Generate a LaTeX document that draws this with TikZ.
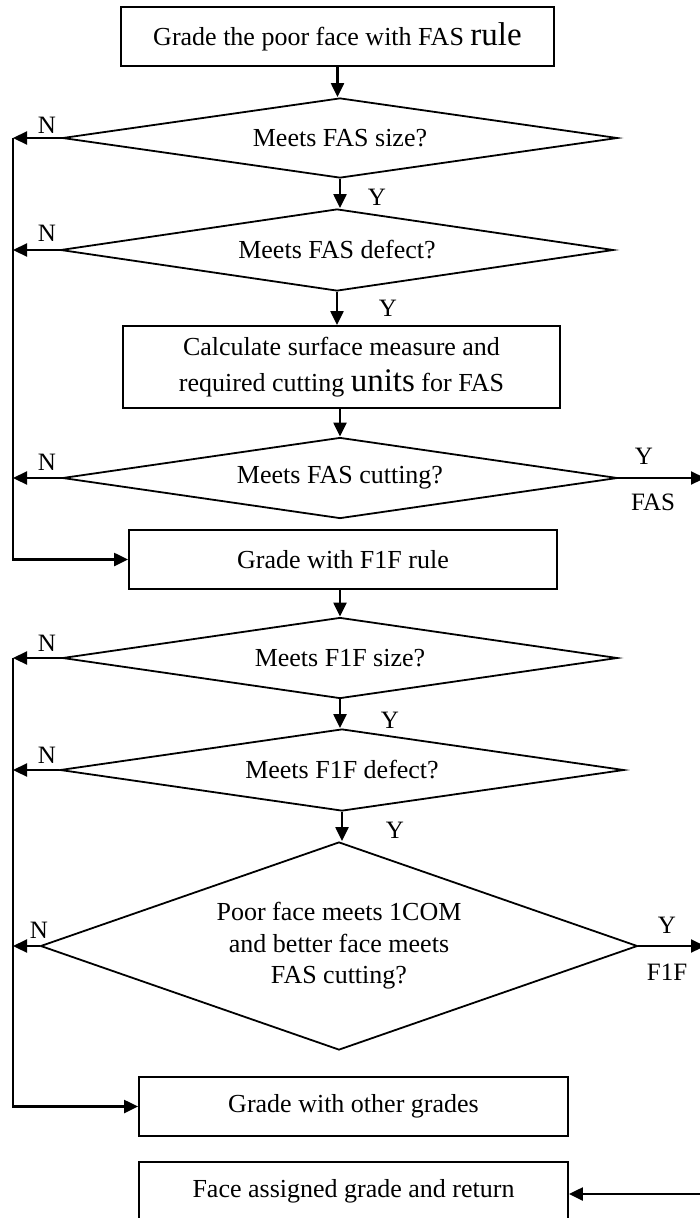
\documentclass[tikz,border=0pt]{standalone}
\usepackage{fontspec}
\setmainfont{Liberation Serif}
\usetikzlibrary{shapes.geometric,arrows.meta}
\begin{document}
\begin{tikzpicture}[x=1pt,y=-1pt,
  every node/.style={font=\fontsize{26}{31.5}\selectfont},
  stepbox/.style={draw,line width=1.8pt,rectangle,inner sep=0pt,align=center},
  test/.style={draw,line width=1.8pt,diamond,inner sep=0pt,align=center},
  flow/.style={line width=2.2pt,-{Triangle[length=14pt,width=13pt]}},
  tag/.style={inner sep=0pt,font=\fontsize{25}{30}\selectfont}]
\useasboundingbox (0,0) rectangle (699,1218);

% FAS branch
\node[stepbox,minimum width=433pt,minimum height=59pt] (b1) at (337.5,36.5)
  {Grade the poor face with FAS {\fontsize{33}{36}\selectfont rule}};
\node[test,aspect=6.9,minimum width=555pt,minimum height=80pt] (d1) at (340,138) {Meets FAS size?};
\node[test,aspect=6.7,minimum width=553pt,minimum height=82pt] (d2) at (337,250) {Meets FAS defect?};
\node[stepbox,minimum width=437pt,minimum height=82pt,font=\fontsize{26}{36}\selectfont] (b3) at (341.5,367)
  {Calculate surface measure and\\required cutting {\fontsize{33}{36}\selectfont units} for FAS};
\node[test,aspect=6.85,minimum width=555pt,minimum height=81pt] (d3) at (340,478) {Meets FAS cutting?};

% F1F branch
\node[stepbox,minimum width=428pt,minimum height=59pt] (b4) at (343,559.5) {Grade with F1F rule};
\node[test,aspect=6.85,minimum width=555pt,minimum height=81pt] (d4) at (340,658) {Meets F1F size?};
\node[test,aspect=6.9,minimum width=564pt,minimum height=82pt] (d5) at (342,770) {Meets F1F defect?};
\node[test,aspect=2.87,minimum width=597pt,minimum height=208pt] (d6) at (339,946)
  {Poor face meets 1COM\\and better face meets\\FAS cutting?};

% remaining grades and exit
\node[stepbox,minimum width=429pt,minimum height=59pt] (b5) at (353.5,1106.5) {Grade with other grades};
\node[stepbox,minimum width=429pt,minimum height=59pt] (b6) at (353.5,1191.5) {Face assigned grade and return};

% edge coordinates
\coordinate (L) at (13,0);
\coordinate (e3) at (705,478);
\coordinate (e6) at (705,946);
\coordinate (e7) at (702,1194);

% main flow
\draw[flow] (b1.south) -- (b1.south |- d1.north);
\draw[flow] (d1.south) -- (d1.south |- d2.north);
\draw[flow] (d2.south) -- (d2.south |- b3.north);
\draw[flow] (b3.south -| d3.north) -- (d3.north);
\draw[flow] (b4.south -| d4.north) -- (d4.north);
\draw[flow] (d4.south) -- (d4.south |- d5.north);
\draw[flow] (d5.south) -- (d5.south |- d6.north);

% N branches
\draw[flow] (d1.west) -- (d1.west -| L);
\draw[flow] (d2.west) -- (d2.west -| L);
\draw[flow] (d3.west) -- (d3.west -| L);
\draw[flow] (d1.west -| L) -- (L |- b4.west) -- (b4.west);
\draw[flow] (d4.west) -- (d4.west -| L);
\draw[flow] (d5.west) -- (d5.west -| L);
\draw[flow] (d6.west) -- (d6.west -| L);
\draw[flow] (d4.west -| L) -- (L |- b5.west) -- (b5.west);

% Y exits
\draw[flow] (d3.east) -- (e3);
\draw[flow] (d6.east) -- (e6);
\draw[flow] (e7) -- (b6.east |- e7);

% labels
\node[tag] (n1) at (47,125) {N};
\node[tag] (n2) at (47,233) {N};
\node[tag] (n3) at (47,462) {N};
\node[tag] (n4) at (47,643) {N};
\node[tag] (n5) at (47,755) {N};
\node[tag] (n6) at (39,930) {N};
\node[tag] (y1) at (377,197) {Y};
\node[tag] (y2) at (388,308) {Y};
\node[tag] (y3) at (644,456) {Y};
\node[tag] (g1) at (653,502) {FAS};
\node[tag] (y4) at (390,720) {Y};
\node[tag] (y5) at (395,830) {Y};
\node[tag] (y6) at (667,925) {Y};
\node[tag] (g2) at (667,972) {F1F};
\end{tikzpicture}
\end{document}
